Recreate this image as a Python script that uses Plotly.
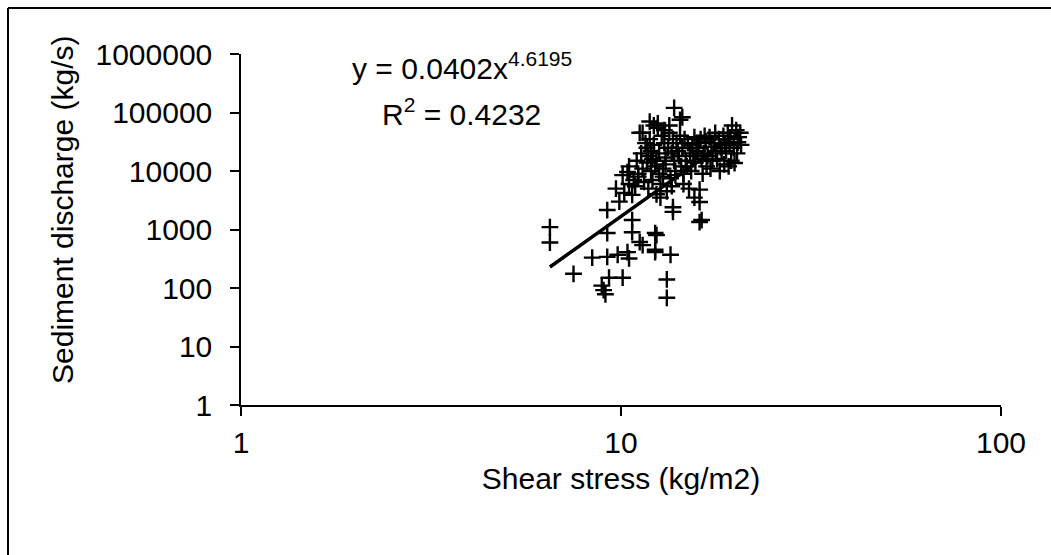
import plotly.graph_objects as go

# Shear stress (kg/m2) and sediment discharge (kg/s)
shear_stress = [
    6.5, 6.5, 7.5, 8.4, 8.9, 9.1, 9.0, 9.3, 10.1, 9.2, 9.8, 10.4, 10.5, 9.2, 9.2,
    10.7, 10.7, 11.2, 12.3, 12.3, 16.1, 16.1, 12.4, 12.3, 13.5, 13.2, 13.2, 11.4,
    13.7, 16.3, 13.7, 16.1,
    9.7, 10.1, 9.9, 10.4, 10.2, 10.5, 10.7, 10.5, 10.8, 11.0, 10.9, 11.1,
    11.3, 11.1, 11.4, 11.2, 11.6, 11.5, 11.7, 11.4, 11.8,
    11.9, 11.7, 12.0, 11.8, 12.1, 12.2, 11.9, 12.3, 12.1, 12.0, 12.4,
    12.5, 12.2, 12.6, 12.4, 12.7, 12.8, 12.6, 12.9, 12.7, 12.5,
    13.0, 13.1, 12.9, 13.2, 13.0, 13.4, 13.3, 13.1, 13.5, 13.6,
    13.7, 13.6, 13.9, 13.4, 13.8, 14.0, 14.2, 13.9, 13.8,
    14.3, 14.1, 14.4, 14.3, 14.6, 14.7, 14.5, 14.8, 14.6, 14.5,
    15.0, 15.2, 14.9, 15.1, 15.4, 15.5, 15.3, 15.6, 15.8, 15.9, 15.7, 15.6,
    16.2, 16.0, 16.4, 16.3, 16.7, 16.5, 16.8, 16.6, 17.1, 17.3, 16.9, 17.2,
    17.6, 17.8, 17.4, 17.7, 18.1, 18.3, 17.9, 18.2, 18.6, 18.8, 18.4, 18.7,
    19.1, 19.3, 18.9, 19.2, 19.6, 19.4, 19.8, 19.5, 20.1, 20.3, 19.9, 20.2,
    20.6, 20.4, 20.7,
]
sediment_discharge = [
    1100, 600, 175, 330, 110, 78, 92, 150, 150, 340, 370, 410, 320, 2150, 870,
    1450, 900, 610, 870, 450, 1340, 2950, 800, 410, 370, 140, 68, 540,
    2000, 1450, 2400, 4800,
    5000, 8500, 3000, 9600, 4200, 6000, 3900, 12000, 7000, 15000, 5500, 9000,
    20000, 8000, 11000, 45000, 30000, 6500, 14000, 45000, 18000,
    70000, 25000, 10000, 5000, 16000, 60000, 35000, 12000, 7000, 22000, 4000,
    55000, 28000, 9000, 15000, 3500, 40000, 20000, 11000, 6000, 65000,
    30000, 17000, 8000, 4500, 50000, 45000, 25000, 13000, 7500, 5500,
    35000, 20000, 10000, 60000, 15000, 30000, 18000, 8500, 120000,
    40000, 22000, 12000, 75000, 6000, 35000, 25000, 15000, 9000, 83000,
    30000, 20000, 12000, 5000, 28000, 18000, 10000, 38000, 30000, 22000, 14000, 3500,
    35000, 25000, 9000, 16000, 32000, 20000, 12000, 40000, 38000, 26000, 18000, 11000,
    30000, 22000, 15000, 45000, 35000, 25000, 16000, 10000, 40000, 28000, 20000, 13000,
    45000, 30000, 22000, 12000, 60000, 35000, 25000, 15000, 50000, 31000, 13700, 20000,
    45000, 38000, 28000,
]

# Power trend line y = a * x^b
trend_a = 0.0402
trend_b = 4.6195
trend_x = [6.5, 8.0, 10.0, 12.0, 14.0, 16.0, 18.0, 20.5]
trend_y = [trend_a * x ** trend_b for x in trend_x]

x_ticks = [1, 10, 100]
y_ticks = [1, 10, 100, 1000, 10000, 100000, 1000000]

FONT = "Liberation Sans, Arial, sans-serif"

fig = go.Figure()
fig.add_trace(go.Scatter(
    x=shear_stress, y=sediment_discharge, mode="markers",
    marker=dict(symbol="cross-thin", size=12, line=dict(color="black", width=2.4)),
    showlegend=False,
))
fig.add_trace(go.Scatter(
    x=trend_x, y=trend_y, mode="lines",
    line=dict(color="black", width=3.5), showlegend=False,
))

fig.update_layout(
    width=1051, height=555,
    margin=dict(l=241, r=50, t=54, b=150),
    paper_bgcolor="white", plot_bgcolor="white",
    font=dict(family=FONT, size=30, color="black"),
    xaxis=dict(
        type="log", range=[0, 2], tickvals=x_ticks, ticktext=[str(v) for v in x_ticks],
        showgrid=False, zeroline=False, showline=True, linecolor="black", linewidth=1.5,
        ticks="outside", ticklen=9, tickwidth=1.5, tickcolor="black",
        ticklabelstandoff=1,
        title=dict(text="Shear stress (kg/m2)", standoff=10, font=dict(size=30)),
    ),
    yaxis=dict(
        type="log", range=[0, 6], tickvals=y_ticks, ticktext=[str(v) for v in y_ticks],
        showgrid=False, zeroline=False, showline=True, linecolor="black", linewidth=1.5,
        ticks="outside", ticklen=9, tickwidth=1.5, tickcolor="black",
        ticklabelstandoff=12,
    ),
    annotations=[
        dict(xref="paper", yref="paper", x=(62 - 241) / 760, y=(405 - 210) / 351,
             text="Sediment discharge (kg/s)", textangle=-90, showarrow=False,
             font=dict(family=FONT, size=30), xanchor="center", yanchor="middle"),
        dict(xref="paper", yref="paper", x=(462 - 241) / 760, y=(405 - 66) / 351,
             text="y = 0.0402x<sup>4.6195</sup>", showarrow=False,
             font=dict(family=FONT, size=30), xanchor="center", yanchor="middle"),
        dict(xref="paper", yref="paper", x=(461 - 241) / 760, y=(405 - 112) / 351,
             text="R<sup>2</sup> = 0.4232", showarrow=False,
             font=dict(family=FONT, size=30), xanchor="center", yanchor="middle"),
    ],
    shapes=[
        dict(type="line", xref="paper", yref="paper",
             x0=(8 - 241) / 760, x1=(1051 - 241) / 760,
             y0=(405 - 8) / 351, y1=(405 - 8) / 351,
             line=dict(color="black", width=2)),
        dict(type="line", xref="paper", yref="paper",
             x0=(8 - 241) / 760, x1=(8 - 241) / 760,
             y0=(405 - 8) / 351, y1=(405 - 555) / 351,
             line=dict(color="black", width=2)),
    ],
)

fig.write_html("out.html")
